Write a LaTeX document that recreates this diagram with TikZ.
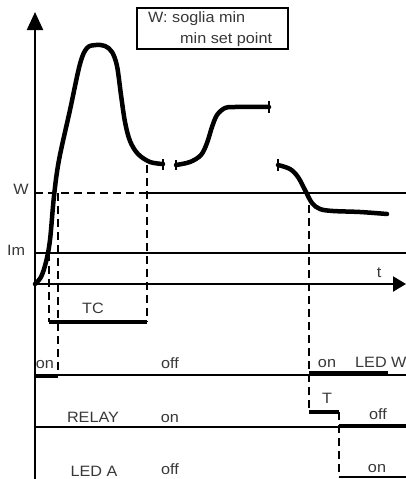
\documentclass[tikz,border=0pt]{standalone}
\usepackage{fontspec}
\setmainfont{Liberation Sans}
\usetikzlibrary{arrows.meta}
\definecolor{txtgray}{HTML}{383838}
\newcommand\wtxt[1]{\scalebox{1.08}[1]{#1}}
\tikzset{
  gridline/.style={line width=1.8pt, draw=black},
  axisline/.style={line width=2.2pt, draw=black},
  curveline/.style={line width=4.5pt, draw=black, line cap=round, line join=round},
  barline/.style={line width=4.2pt, draw=black},
  dashline/.style={line width=2pt, draw=black, dash pattern=on 8pt off 5pt},
  tickmark/.style={line width=1.6pt, draw=black},
  lbl/.style={font=\fontsize{15}{18}\selectfont, text=txtgray, inner sep=0pt, anchor=base},
  lblw/.style={lbl, anchor=base west},
}
\begin{document}
\begin{tikzpicture}[x=1pt,y=-1pt]
\useasboundingbox (0,0) rectangle (406,479);
% key points
\coordinate (O) at (35,284);
\coordinate (Ytop) at (35,12);
\coordinate (Ybot) at (35,479);
\coordinate (Tend) at (406,284);
\coordinate (W0) at (35,193);
\coordinate (Wd) at (147,193);
\coordinate (W1) at (406,193);
\coordinate (Im0) at (35,253);
\coordinate (Im1) at (406,253);
\coordinate (L0) at (35,375);
\coordinate (L1) at (406,375);
\coordinate (R0) at (35,427);
\coordinate (R1) at (406,427);
% axes
\draw[axisline, -{Triangle[length=18pt,width=16pt]}] (Ybot) -- (Ytop);
\draw[axisline, -{Triangle[length=13pt,width=15pt]}] (O) -- (Tend);
% threshold lines
\draw[dashline] (W0) -- (Wd);
\draw[gridline] (Wd) -- (W1);
\draw[gridline] (Im0) -- (Im1);
\draw[gridline] (L0) -- (L1);
\draw[gridline] (R0) -- (R1);
% curve pieces
\draw[curveline] plot[smooth, tension=0.55] coordinates {(35,284) (41,277) (46,262) (50,240) (54,196) (59,160) (70,110) (80,64) (87,48) (96,45) (105,46) (112,52) (117,66) (121,95) (125,122) (130,141) (138,154) (150,162) (163,164)};
\draw[tickmark] (163,159) -- (163,170);
\draw[curveline] plot[smooth, tension=0.55] coordinates {(176,165) (190,162) (201,155) (207,143) (212,127) (217,115) (225,108) (235,107) (269,107)};
\draw[tickmark] (176,160) -- (176,170);
\draw[tickmark] (269,101) -- (269,113);
\draw[curveline] plot[smooth, tension=0.55] coordinates {(278,165) (290,169) (298,177) (305,190) (312,203) (320,209) (333,211) (360,212) (387,214)};
\draw[tickmark] (278,159) -- (278,171);
% TC
\coordinate (TCa) at (49,322);
\coordinate (TCb) at (147,322);
\draw[dashline] (49,253) -- (TCa);
\draw[dashline] (147,165) -- (TCb);
\draw[barline] (TCa) -- (TCb);
% LED W left on
\coordinate (Lon) at (58,376);
\draw[dashline] (58,193) -- (Lon);
\draw[barline] (35,376) -- (Lon);
% right side
\coordinate (Ra) at (309,373);
\coordinate (Rb) at (388,373);
\coordinate (Ta) at (309,412);
\coordinate (Tb) at (339,412);
\coordinate (Ac) at (339,477);
\draw[dashline] (309,205) -- (Ta);
\draw[barline] (Ra) -- (Rb);
\draw[barline] (Ta) -- (Tb);
\draw[dashline] (Tb) -- (Ac);
\draw[barline] (339,426) -- (406,426);
\draw[gridline] (Ac) -- (406,477);
% legend
\node[draw=black, line width=1.8pt, fill=white, minimum width=151pt, minimum height=41pt, inner sep=0pt, anchor=north west] (legend) at (136,7) {};
\node[lblw] (leg1) at (148,23) {\wtxt{W: soglia min}};
\node[lblw] (leg2) at (180,43) {\wtxt{min set point}};
% labels
\node[lbl] (lW) at (21,194) {\wtxt{W}};
\node[lbl] (lIm) at (16,255) {\wtxt{Im}};
\node[lbl] (lt) at (379,277) {\wtxt{t}};
\node[lbl] (lTC) at (93,313) {\wtxt{TC}};
\node[lbl] (on1) at (45,368) {\wtxt{on}};
\node[lbl] (off1) at (170,368) {\wtxt{off}};
\node[lbl] (on2) at (327,367) {\wtxt{on}};
\node[lblw] (ledw) at (355,367) {\wtxt{LED W}};
\node[lbl] (lT) at (327,403) {\wtxt{T}};
\node[lbl] (relay) at (93,422) {\wtxt{RELAY}};
\node[lbl] (on3) at (170,422) {\wtxt{on}};
\node[lbl] (off3) at (378,419) {\wtxt{off}};
\node[lbl] (leda) at (94,476) {\wtxt{LED A}};
\node[lbl] (off4) at (170,474) {\wtxt{off}};
\node[lbl] (on4) at (377,472) {\wtxt{on}};
\end{tikzpicture}
\end{document}
